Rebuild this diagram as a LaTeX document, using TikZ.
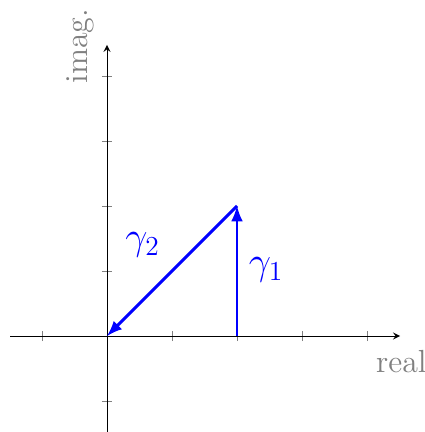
\documentclass[tikz,border=0pt]{standalone}
\usepackage{amsmath,amssymb}
\usepackage{xcolor}
\usetikzlibrary{arrows,positioning,calc}

\begin{document}
\begin{tikzpicture}[
        axis/.style={->, >=stealth, thin},
        tick/.style={gray, thin},
        axlabel/.style={gray, font=\fontsize{14}{16}\selectfont},
        path/.style={->, >=latex, blue, line width=1.3pt},
        pathlabel/.style={blue, font=\fontsize{18}{21}\selectfont}
    ]
        \useasboundingbox (-1.646,-1.477) rectangle (4.892,5.169);
        \coordinate (o) at (0,0);
        \coordinate (a) at (2,0);
        \coordinate (b) at (2,2);
        \coordinate (xs) at (-1.49,0);
        \coordinate (xe) at (4.51,0);
        \coordinate (ys) at (0,-1.48);
        \coordinate (ye) at (0,4.48);
        % ticks
        \foreach \t in {-1,1,2,3,4} {
            \draw[tick] (\t,-0.08) -- (\t,0.08);
            \draw[tick] (-0.08,\t) -- (0.08,\t);
        }
        % axes
        \draw[axis] (xs) -- (xe);
        \draw[axis] (ys) -- (ye);
        \node[axlabel] (re) at (4.53,-0.4) {real};
        \node[axlabel, rotate=90] (im) at (-0.41,4.46) {imag.};
        % paths
        \draw[path] (a) -- (b);
        \draw[path] (b) -- (o);
        \node[pathlabel] (g1) at (2.45,1.02) {$\gamma_1$};
        \node[pathlabel] (g2) at (0.55,1.40) {$\gamma_2$};
    \end{tikzpicture}
\end{document}
